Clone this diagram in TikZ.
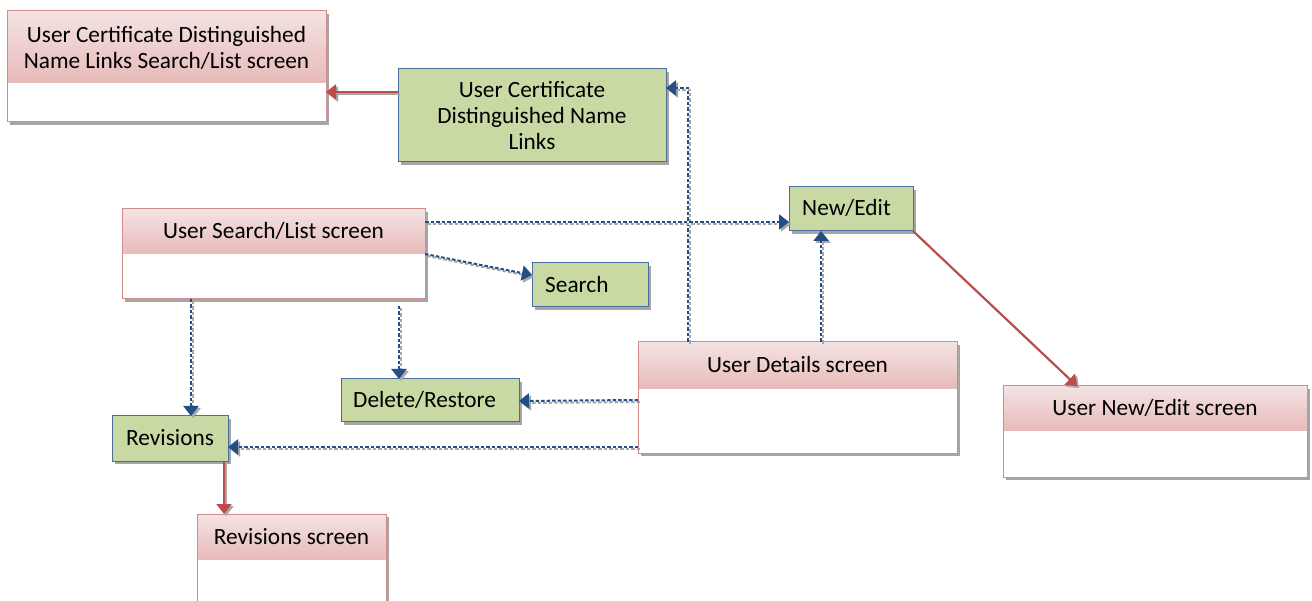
\documentclass[tikz,border=0pt]{standalone}
\usepackage{fontspec}
\setmainfont{Carlito}
\usetikzlibrary{arrows.meta,shadows}
\definecolor{flowblue}{HTML}{234E86}
\definecolor{shadowgray}{HTML}{A6A6A6}
\definecolor{flowred}{HTML}{BE4B48}
\definecolor{grnfill}{HTML}{C8D9A4}
\definecolor{grnborder}{HTML}{4A6E9E}
\definecolor{scrborder}{HTML}{D48C8A}
\definecolor{hdrtop}{HTML}{F4E3E3}
\definecolor{hdrbot}{HTML}{E7BAB9}
\newcommand\lblfont{\fontsize{23.3}{26}\selectfont}
\tikzset{
  boxshadow/.style={drop shadow={shadow xshift=3pt, shadow yshift=-3pt, fill=shadowgray, opacity=1}},
  scr/.style={rectangle, draw=scrborder, line width=1pt, fill=white, inner sep=0pt, outer sep=0pt, boxshadow},
  hdr/.style={top color=hdrtop, bottom color=hdrbot, draw=none},
  scrframe/.style={draw=scrborder, line width=1pt},
  grn/.style={rectangle, draw=grnborder, line width=1pt, fill=grnfill, inner sep=0pt, outer sep=0pt, boxshadow},
  lbl/.style={font=\lblfont, inner sep=0pt, text=black},
  tip/.style={-{Triangle[width=15pt,length=10pt]}},
  blueflow/.style={draw=flowblue, line width=2pt, dash pattern=on 3.5pt off 2pt, tip,
    preaction={draw=shadowgray, line width=2pt, dash pattern=on 3.5pt off 2pt, transform canvas={xshift=2pt,yshift=-2pt}}},
  redflow/.style={draw=flowred, line width=2pt, tip,
    preaction={draw=shadowgray, line width=2pt, transform canvas={xshift=2pt,yshift=-2pt}}},
}
\begin{document}
\begin{tikzpicture}[x=1pt,y=-1pt]
\useasboundingbox (0,0) rectangle (1312,601);
\fill[white] (0,0) rectangle (1312,601);
\clip (0,0) rectangle (1312,601);

% screen boxes
\node[scr, minimum width=319pt, minimum height=111pt] (tl) at (166.5,66.5) {};
\path[hdr] (tl.north west) rectangle ([yshift=-72pt]tl.north east);
\draw[scrframe] (tl.north west) rectangle (tl.south east);
\node[lbl, align=center] (tltext) at (166.5,48) {User Certificate Distinguished\\Name Links Search/List screen};

\node[scr, minimum width=303pt, minimum height=90pt] (us) at (273.5,254) {};
\path[hdr] (us.north west) rectangle ([yshift=-45pt]us.north east);
\draw[scrframe] (us.north west) rectangle (us.south east);
\node[lbl, anchor=base] (ustext) at (273.5,239) {User Search/List screen};

\node[scr, minimum width=319pt, minimum height=111pt] (det) at (797.5,397.5) {};
\path[hdr] (det.north west) rectangle ([yshift=-47pt]det.north east);
\draw[scrframe] (det.north west) rectangle (det.south east);
\node[lbl, anchor=base] (dettext) at (797.5,373) {User Details screen};

\node[scr, minimum width=304pt, minimum height=91pt] (une) at (1155,431.5) {};
\path[hdr] (une.north west) rectangle ([yshift=-45pt]une.north east);
\draw[scrframe] (une.north west) rectangle (une.south east);
\node[lbl, anchor=base] (unetext) at (1155,416) {User New/Edit screen};

\node[scr, minimum width=189pt, minimum height=106pt] (rs) at (291.5,567) {};
\path[hdr] (rs.north west) rectangle ([yshift=-45pt]rs.north east);
\draw[scrframe] (rs.north west) rectangle (rs.south east);
\node[lbl, anchor=base] (rstext) at (291.5,544) {Revisions screen};

% green boxes
\node[grn, minimum width=268pt, minimum height=93pt] (ucdn) at (532,115.5) {};
\node[lbl, align=center] (ucdntext) at (532,116) {User Certificate\\Distinguished Name\\Links};

\node[grn, minimum width=116pt, minimum height=44pt] (search) at (590,285) {};
\node[lbl, anchor=base west] (searchtext) at (545,292.5) {Search};

\node[grn, minimum width=124pt, minimum height=44pt] (ne) at (851,209) {};
\node[lbl, anchor=base west] (netext) at (802,216) {New/Edit};

\node[grn, minimum width=178pt, minimum height=43pt] (del) at (430,400.5) {};
\node[lbl, anchor=base west] (deltext) at (353,408) {Delete/Restore};

\node[grn, minimum width=116pt, minimum height=45pt] (rev) at (170,438.5) {};
\node[lbl, anchor=base west] (revtext) at (126,446) {Revisions};

% connectors
\draw[redflow] (ucdn.west |- 0,92) -- (tl.east |- 0,92);
\draw[blueflow] (det.north -| 688,0) |- (ucdn.east |- 0,88);
\draw[blueflow] (us.east |- 0,222) -- (ne.west |- 0,222);
\draw[blueflow] (det.north -| 821,0) -- (ne.south -| 821,0);
\draw[blueflow] (us.east |- 0,254) -- (search.west |- 0,275);
\draw[blueflow] (us.south -| 191,0) -- (rev.north -| 191,0);
\coordinate (usd) at (399,306);
\draw[blueflow] (usd) -- (del.north -| usd);
\draw[blueflow] (det.west |- 0,400) -- (del.east |- 0,401);
\draw[blueflow] (det.west |- 0,447) -- (rev.east |- 0,447);
\draw[redflow] (rev.south -| 224,0) -- (rs.north -| 224,0);
\draw[redflow] (ne.south east) -- (une.north -| 1077,0);
\end{tikzpicture}
\end{document}
